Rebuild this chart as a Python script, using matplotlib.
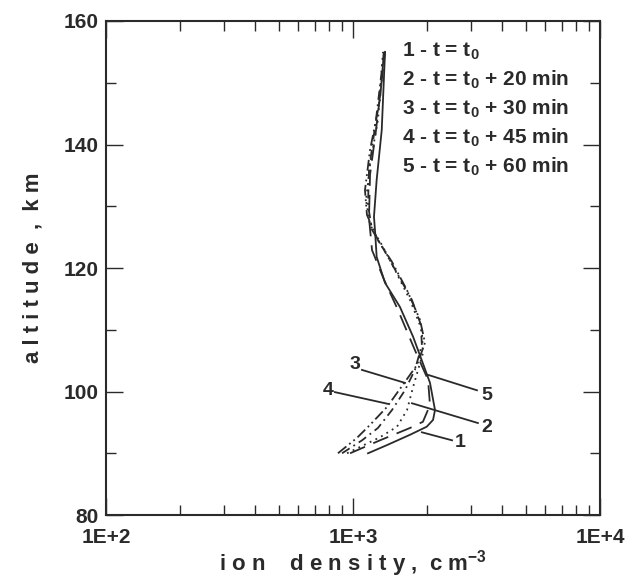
import matplotlib
matplotlib.use("Agg")
import matplotlib.pyplot as plt
from matplotlib.ticker import FixedLocator, MultipleLocator

plt.rcParams['font.family'] = ['Liberation Sans Narrow', 'Liberation Sans', 'DejaVu Sans']
plt.rcParams['mathtext.fontset'] = 'custom'
plt.rcParams['mathtext.rm'] = 'Liberation Sans'
plt.rcParams['mathtext.bf'] = 'Liberation Sans:bold'

# profils de densite ionique (altitude km, densite cm-3)
alt1 = [90, 91.3, 93, 94.3, 95.4, 97, 101.4, 105.1, 108.9, 113.7, 117.6, 121.8, 126.2, 128.3, 134.3, 142.3, 155]
dens1 = [1150, 1368, 1702, 1988, 2109, 2148, 2050, 1897, 1750, 1549, 1348, 1247, 1227, 1216, 1247, 1307, 1348]

alt2 = [90, 92.6, 94.3, 97.0, 100.7, 103.5, 106.2, 110, 114.8, 119.7, 123.7, 127, 131, 136.7, 144, 155]
dens2 = [946, 1286, 1507, 1655, 1750, 1834, 1919, 1900, 1702, 1479, 1311, 1172, 1129, 1172, 1262, 1323]

alt3 = [90, 92.5, 94.6, 97.5, 101.1, 104.3, 107.9, 111.6, 116.4, 121.0, 124.5, 128.6, 132.6, 139.1, 147.2, 155]
dens3 = [869, 1038, 1172, 1373, 1593, 1816, 1956, 1868, 1655, 1438, 1262, 1139, 1118, 1172, 1286, 1335]

alt4 = [90, 92.1, 94.1, 97.0, 100.2, 103.5, 107.5, 110.8, 114.8, 118.9, 122.9, 126.2, 130.2, 135.9, 144, 155]
dens4 = [903, 1088, 1262, 1438, 1623, 1781, 1900, 1884, 1733, 1521, 1336, 1194, 1150, 1161, 1239, 1335]

alt5 = [90, 92.1, 94.1, 95.1, 97.8, 101.9, 106.7, 113.2, 118.1, 122.9, 128.1, 135.1, 142.3, 155]
dens5 = [973, 1286, 1702, 1919, 2050, 2013, 1781, 1521, 1336, 1194, 1161, 1172, 1239, 1348]

legende = ["1 - t = t$_{\\mathbf{0}}$",
           "2 - t = t$_{\\mathbf{0}}$ + 20 min",
           "3 - t = t$_{\\mathbf{0}}$ + 30 min",
           "4 - t = t$_{\\mathbf{0}}$ + 45 min",
           "5 - t = t$_{\\mathbf{0}}$ + 60 min"]

# etiquettes des courbes : (texte, densite texte, alt texte, densite debut, alt debut, densite fin, alt fin)
etiquettes = [("1", 2711, 91.8, 2518, 92.1, 1901, 93.4),
              ("2", 3486, 94.25, 3204, 94.9, 1733, 98.1),
              ("3", 1019, 104.3, 1087, 103.5, 1624, 101.4),
              ("4", 792, 100.2, 845, 99.9, 1386, 98.0),
              ("5", 3486, 99.4, 3176, 100.2, 2013, 102.7)]

fig = plt.figure(figsize=(6.41, 5.8), dpi=100)
ax = fig.add_axes([0.1654, 0.112, 0.7706, 0.8518])

c = '#2a2a2a'
ax.plot(dens1, alt1, color=c, lw=1.3, linestyle='-')
ax.plot(dens2, alt2, color=c, lw=1.3, linestyle=(0, (1, 2.5)))
ax.plot(dens3, alt3, color=c, lw=1.3, linestyle=(0, (6, 2, 1, 2, 1, 2)))
ax.plot(dens4, alt4, color=c, lw=1.3, linestyle=(0, (5, 2.5, 1, 2.5)))
ax.plot(dens5, alt5, color=c, lw=1.3, linestyle=(0, (9, 5)))

ax.set_xscale('log')
ax.set_xlim(100, 10000)
ax.set_ylim(80, 160)

ax.xaxis.set_major_locator(FixedLocator([100, 1000, 10000]))
ax.xaxis.set_minor_locator(FixedLocator([k * 10 ** e for e in (2, 3) for k in range(2, 10)]))
ax.set_xticklabels(["1E+2", "1E+3", "1E+4"])
ax.yaxis.set_major_locator(MultipleLocator(20))
ax.yaxis.set_minor_locator(MultipleLocator(10))

ax.tick_params(which='both', direction='in', top=True, right=True, colors=c,
               labelsize=15, width=1.0)
ax.tick_params(which='major', length=12)
ax.tick_params(which='minor', length=7)
ax.tick_params(axis='x', which='major', pad=9)
ax.tick_params(axis='y', which='major', pad=5)
for lab in ax.get_xticklabels() + ax.get_yticklabels():
    lab.set_fontweight('bold')
for sp in ax.spines.values():
    sp.set_linewidth(1.5)
    sp.set_color(c)

ax.set_xlabel("i o n    d e n s i t y ,  c m$^{\\mathbf{-3}}$", fontsize=16, fontweight='bold',
              color=c, labelpad=1)
ax.set_ylabel("a l t i t u d e  ,  k m", fontsize=16, fontweight='bold', color=c, labelpad=15)

# legende en texte
for i, txt in enumerate(legende):
    ax.text(0.6, 0.939 - i * 0.0587, txt, transform=ax.transAxes, fontsize=15,
            fontweight='bold', color=c, va='center', ha='left')

for nom, xt, yt, x0, y0, x1, y1 in etiquettes:
    ax.plot([x0, x1], [y0, y1], color=c, lw=1.3)
    ax.text(xt, yt, nom, fontsize=14, fontweight='bold', color=c, ha='center', va='center')

fig.savefig("out.png", dpi=100)
